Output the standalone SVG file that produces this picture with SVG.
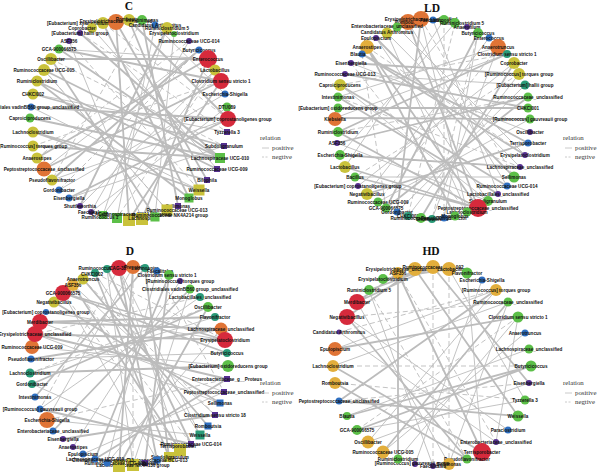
<svg xmlns="http://www.w3.org/2000/svg" width="600" height="472" viewBox="0 0 600 472">
<style>
.e{stroke:#bcbcbc;fill:none;stroke-width:0.9;stroke-linecap:butt}
.t{stroke-width:1.8}
.d{stroke-dasharray:5 3}
text{font-family:"Liberation Sans",Arial,sans-serif}
.n text{font-size:4.6px;font-weight:bold;text-anchor:middle;fill:#111}
.ti{font-family:"Liberation Serif","Times New Roman",serif;font-size:11.5px;font-weight:bold;text-anchor:middle;fill:#111}
.lg text{font-family:"Liberation Serif","Times New Roman",serif;font-size:6.8px;fill:#333}
.lg line{stroke:#c4c4c4;stroke-width:0.9}
.R{fill:#d62a3c}.O{fill:#e07436}.Y{fill:#c9c23b}.G{fill:#5cbf48}.B{fill:#2f6fc0}.P{fill:#55308f}.T{fill:#2a9a78}.A{fill:#e2ae3c}
</style>
<rect width="600" height="472" fill="#fff"/>
<text class="ti" x="129" y="10">C</text>
<text class="ti" x="432" y="12">LD</text>
<text class="ti" x="130" y="255">D</text>
<text class="ti" x="431" y="255">HD</text>
<g id="connectors">
<path class="e t" d="M51,59L208,59M59,49L221,81M80,33L220,158M116,22L207,180M129,20L199,190M142,20L178,206M103,23L189,198M44,70L220,158M37,81L217,169M33,94L224,146M30,118L220,158M33,132L199,190M33,146L220,158M37,158L208,59M44,169L221,81M52,180L199,50M69,198L228,119M129,220L116,22M155,217L51,59M189,198L37,81M207,180L33,132M220,158L59,49M221,81L129,220M208,59L142,219M167,28L80,206M31,107L228,119M129,20L228,119"/>
<path class="e" d="M155,25L117,218M59,190L225,94M80,206L215,70M91,212L189,41M103,215L167,28M142,219L69,41M167,210L44,70M199,190L31,107M228,119L52,180M227,107L91,212M215,70L103,215M199,50L44,169M174,34L155,217M227,132L33,94M224,146L69,198M217,169L92,28M155,25L225,94M59,49L208,59"/>
<path class="e d" d="M116,22L129,220M142,20L52,180M69,41L199,190M33,146L221,81M44,70L167,210M199,50L59,190M37,158L189,41M80,33L227,132M228,119L103,23M215,70L117,218M51,59L224,146"/>
<path class="e t" d="M338,108L528,108M335,118L530,119M362,54L528,143M351,63L519,74M340,85L507,186M367,47L478,208M408,22L478,208M421,19L397,212M478,33L386,208M507,54L338,132M528,97L337,143M525,155L362,54M514,177L376,38M498,194L338,97M478,208L355,177M455,216L367,47M421,218L514,63M386,208L528,97M367,194L528,143M345,167L478,208M338,132L478,208M340,155L520,167M345,74L528,108"/>
<path class="e" d="M338,97L498,47M387,33L467,212M376,38L488,201M444,20L345,167M455,23L340,155M489,38L367,194M514,63L358,186M525,85L345,74M530,132L351,63M520,167L387,33M507,186L408,22M488,201L340,85M467,212L421,19M444,218L478,33M432,219L498,47M408,216L519,74M397,212L525,85M378,202L530,119M355,177L514,177M337,143L488,201M397,27L525,155M433,20L498,194M335,118L507,54"/>
<path class="e d" d="M444,20L444,218M455,23L408,216M421,19L514,177M367,47L525,155M340,85L507,54M338,97L520,167M362,54L386,208M498,47L378,202M519,74L355,177M351,63L467,212M478,33L432,219M528,97L338,132"/>
<path class="e t" d="M40,322L221,329M35,334L225,340M63,293L225,340M63,293L227,353M54,302L220,403M73,285L180,450M95,273L169,457M119,268L157,460M133,267L119,466M145,268L35,397M169,275L95,459M190,289L53,431M208,307L32,384M221,329L31,359M227,353L63,293M227,379L35,334M220,403L54,302M208,426L83,279M191,444L107,269M169,457L145,268M145,463L169,275M119,466L208,307M95,459L227,379M63,439L215,415M40,409L191,444M30,373L228,366M40,322L215,317"/>
<path class="e" d="M83,279L208,426M107,269L133,465M119,268L200,435M133,267L47,420M157,271L107,463M180,281L73,447M200,297L40,409M215,317L30,373M225,340L46,312M228,366L32,347M224,392L40,322M215,415L73,285M200,435L95,273M180,450L119,268M157,460L63,293M133,465L190,289M107,463L221,329M83,454L224,392M47,420L200,435M32,384L180,450M31,359L227,353M35,334L220,403"/>
<path class="e d" d="M133,267L133,465M145,268L169,457M157,271L224,392M119,268L40,409M73,285L191,444M95,273L225,340M200,297L35,334M47,420L227,379M63,293L180,450M83,279L215,415M30,373L208,307"/>
<path class="e t" d="M357,302L398,273M347,317L415,269M369,290L433,267M383,279L449,269M357,302L433,267M398,273L398,459M415,269L518,416M433,267L529,383M398,273L482,452M347,317L467,459M335,349L518,317M339,401L496,290M357,430L531,366M383,452L508,302M467,459L335,383M482,452L333,366M518,416L339,401M531,366L347,416"/>
<path class="e" d="M449,269L525,400M333,366L508,302M347,416L529,349M368,442L496,290M398,459L518,317M415,464L482,280M496,442L339,332M508,430L347,317M525,400L357,430M529,383L368,442M496,290L335,349M449,464L357,302M433,466L369,290M467,273L482,452M518,317L496,442M525,333L383,452M508,302L449,464"/>
<path class="e d" d="M339,332L496,290M347,317L508,302M333,366L531,366M335,383L525,400M433,267L433,466M449,269L449,464M398,273L496,442M357,430L518,317M339,401L529,383M369,290L467,459"/>
</g>
<g class="n" id="nodes-C">
<g id="C4"><circle class="Y" cx="103" cy="23" r="6"/><text x="85" y="25">[Eubacterium] xylanophilum group</text></g>
<g id="C5"><circle class="Y" cx="92" cy="28" r="5"/><text x="82" y="30">Coprobacter</text></g>
<g id="C1"><circle class="O" cx="116" cy="22" r="8"/><text x="116" y="23">Erysipelotrichaceae_unclassified</text></g>
<g id="C2"><circle class="Y" cx="129" cy="20" r="6"/><text x="129" y="21">Romboutsia</text></g>
<g id="C3"><circle class="G" cx="142" cy="20" r="5"/><text x="142" y="22">Intestinimonas</text></g>
<g id="C6"><circle class="B" cx="155" cy="25" r="3.5"/><text x="155" y="27">Candidatus Arthromitus</text></g>
<g id="C7"><circle class="Y" cx="167" cy="28" r="6"/><text x="167" y="30">Ruminiclostridium 5</text></g>
<g id="C8"><circle class="G" cx="174" cy="34" r="3"/><text x="174" y="35">Erysipelatoclostridium</text></g>
<g id="C9"><circle class="P" cx="80" cy="33" r="3"/><text x="80" y="35">[Eubacterium] hallii group</text></g>
<g id="C10"><circle class="P" cx="69" cy="41" r="3"/><text x="69" y="43">ASF356</text></g>
<g id="C11"><circle class="P" cx="189" cy="41" r="3"/><text x="189" y="43">Ruminococcaceae UCG-014</text></g>
<g id="C12"><circle class="G" cx="59" cy="49" r="4.5"/><text x="59" y="51">GCA-900066575</text></g>
<g id="C13"><circle class="B" cx="199" cy="50" r="3.5"/><text x="199" y="52">Butyricicoccus</text></g>
<g id="C14"><circle class="Y" cx="51" cy="59" r="6"/><text x="51" y="61">Oscillibacter</text></g>
<g id="C15"><circle class="R" cx="208" cy="59" r="9"/><text x="208" y="61">Enterococcus</text></g>
<g id="C16"><circle class="Y" cx="44" cy="70" r="6"/><text x="44" y="72">Ruminococcaceae UCG-005</text></g>
<g id="C17"><circle class="Y" cx="215" cy="70" r="5.5"/><text x="215" y="72">Lactobacillus</text></g>
<g id="C18"><circle class="Y" cx="37" cy="81" r="5.5"/><text x="37" y="83">Ruminiclostridium</text></g>
<g id="C19"><circle class="R" cx="221" cy="81" r="8"/><text x="221" y="83">Clostridium sensu stricto 1</text></g>
<g id="C20"><circle class="Y" cx="33" cy="94" r="5.5"/><text x="33" y="96">CHKCI002</text></g>
<g id="C21"><circle class="B" cx="225" cy="94" r="3.5"/><text x="225" y="96">Escherichia-Shigella</text></g>
<g id="C22"><circle class="B" cx="31" cy="107" r="3.5"/><text x="31" y="109">Clostridiales vadinBB60 group_unclassified</text></g>
<g id="C23"><circle class="G" cx="227" cy="107" r="4.5"/><text x="227" y="109">DTU089</text></g>
<g id="C24"><circle class="G" cx="30" cy="118" r="4.5"/><text x="30" y="120">Caproiciproducens</text></g>
<g id="C25"><circle class="R" cx="228" cy="119" r="8"/><text x="228" y="121">[Eubacterium] coprostanoligenes group</text></g>
<g id="C26"><circle class="Y" cx="33" cy="132" r="5.5"/><text x="33" y="134">Lachnoclostridium</text></g>
<g id="C27"><rect class="P" x="224" y="129" width="6" height="6"/><text x="227" y="134">Tyzzerella 3</text></g>
<g id="C28"><circle class="Y" cx="33" cy="146" r="5.5"/><text x="33" y="148">[Ruminococcus] torques group</text></g>
<g id="C29"><rect class="P" x="221" y="143" width="6" height="6"/><text x="224" y="148">Subdoligranulum</text></g>
<g id="C30"><circle class="Y" cx="37" cy="158" r="5.5"/><text x="37" y="160">Anaerostipes</text></g>
<g id="C31"><rect class="G" x="215" y="153" width="10" height="10"/><text x="220" y="160">Lachnospiraceae UCG-010</text></g>
<g id="C32"><circle class="O" cx="44" cy="169" r="7.5"/><text x="44" y="171">Peptostreptococcaceae_unclassified</text></g>
<g id="C33"><rect class="P" x="214" y="166" width="6" height="6"/><text x="217" y="171">Ruminococcaceae UCG-009</text></g>
<g id="C34"><circle class="Y" cx="52" cy="180" r="5.5"/><text x="52" y="182">Pseudoflavonifractor</text></g>
<g id="C35"><rect class="P" x="204" y="177" width="6" height="6"/><text x="207" y="182">Bilophila</text></g>
<g id="C36"><circle class="B" cx="59" cy="190" r="3.5"/><text x="59" y="192">Gordonibacter</text></g>
<g id="C37"><rect class="Y" x="193.5" y="184.5" width="11" height="11"/><text x="199" y="192">Weissella</text></g>
<g id="C38"><circle class="B" cx="69" cy="198" r="3.5"/><text x="69" y="200">Eisenbergiella</text></g>
<g id="C39"><rect class="G" x="184.5" y="193.5" width="9" height="9"/><text x="189" y="200">Monoglobus</text></g>
<g id="C40"><circle class="P" cx="80" cy="206" r="3"/><text x="80" y="208">Shuttleworthia</text></g>
<g id="C41"><rect class="P" x="175" y="203" width="6" height="6"/><text x="178" y="208">Sellimonas</text></g>
<g id="C42"><circle class="P" cx="91" cy="212" r="3"/><text x="91" y="214">Faecalitalea</text></g>
<g id="C43"><rect class="Y" x="161.5" y="204.5" width="11" height="11"/><text x="177" y="212">Ruminococcaceae UCG-013</text></g>
<g id="C44"><rect class="G" x="99" y="211" width="8" height="8"/><text x="100" y="216">CAG-56</text></g>
<g id="C45"><rect class="G" x="112" y="213" width="10" height="10"/><text x="100" y="219">Ruminococcus 1</text></g>
<g id="C46"><rect class="Y" x="123" y="214" width="12" height="12"/><text x="135" y="216">Lachnospiraceae NK4A136 group</text></g>
<g id="C47"><rect class="Y" x="136" y="213" width="12" height="12"/><text x="142" y="220">Lachnospira</text></g>
<g id="C48"><rect class="G" x="150.5" y="212.5" width="9" height="9"/><text x="170" y="217">Ruminococcaceae NK4A214 group</text></g>
</g>
<g class="n" id="nodes-LD">
<g id="LD1"><circle class="O" cx="408" cy="22" r="8"/><text x="408" y="24">Romboutsia</text></g>
<g id="LD2"><circle class="O" cx="421" cy="19" r="8"/><text x="421" y="21">Erysipelotrichaceae_unclassified</text></g>
<g id="LD3"><circle class="B" cx="433" cy="20" r="3.5"/><text x="433" y="22">Faecalitalea</text></g>
<g id="LD4"><circle class="G" cx="444" cy="20" r="5"/><text x="444" y="22">Lachnospira</text></g>
<g id="LD5"><circle class="G" cx="455" cy="23" r="5"/><text x="462" y="25">Ruminiclostridium 5</text></g>
<g id="LD6"><circle class="P" cx="467" cy="27" r="3"/><text x="467" y="29">Anaerofilum</text></g>
<g id="LD7"><circle class="G" cx="397" cy="27" r="4.5"/><text x="387" y="28">Enterobacteriaceae_unclassified</text></g>
<g id="LD8"><circle class="Y" cx="387" cy="33" r="5.5"/><text x="387" y="34">Candidatus Arthromitus</text></g>
<g id="LD9"><circle class="G" cx="478" cy="33" r="5"/><text x="478" y="35">Butyricicoccus</text></g>
<g id="LD10"><circle class="P" cx="376" cy="38" r="3"/><text x="376" y="40">Epulopiscium</text></g>
<g id="LD11"><circle class="B" cx="489" cy="38" r="3.5"/><text x="489" y="40">Enterococcus</text></g>
<g id="LD12"><circle class="A" cx="367" cy="47" r="7"/><text x="367" y="49">Anaerostipes</text></g>
<g id="LD13"><circle class="O" cx="498" cy="47" r="8"/><text x="498" y="49">Anaerotruncus</text></g>
<g id="LD14"><circle class="B" cx="362" cy="54" r="3.5"/><text x="358" y="56">Blautia</text></g>
<g id="LD15"><circle class="T" cx="507" cy="54" r="4"/><text x="507" y="56">Clostridium sensu stricto 1</text></g>
<g id="LD16"><circle class="P" cx="351" cy="63" r="3"/><text x="351" y="65">Eisenbergiella</text></g>
<g id="LD17"><circle class="Y" cx="514" cy="63" r="6"/><text x="514" y="65">Coprobacter</text></g>
<g id="LD18"><circle class="P" cx="345" cy="74" r="3"/><text x="345" y="76">Ruminococcaceae UCG-013</text></g>
<g id="LD19"><circle class="Y" cx="519" cy="74" r="6"/><text x="519" y="76">[Ruminococcus] torques group</text></g>
<g id="LD20"><circle class="Y" cx="340" cy="85" r="6"/><text x="340" y="87">Caproiciproducens</text></g>
<g id="LD21"><circle class="T" cx="525" cy="85" r="4.5"/><text x="525" y="87">[Eubacterium] hallii group</text></g>
<g id="LD22"><circle class="G" cx="338" cy="97" r="4.5"/><text x="338" y="99">Intestinimonas</text></g>
<g id="LD23"><circle class="G" cx="528" cy="97" r="4.5"/><text x="528" y="99">Ruminococcaceae_unclassified</text></g>
<g id="LD24"><circle class="G" cx="338" cy="108" r="4.5"/><text x="338" y="110">[Eubacterium] oxidoreducens group</text></g>
<g id="LD25"><circle class="G" cx="528" cy="108" r="4.5"/><text x="528" y="110">CHKCI001</text></g>
<g id="LD26"><circle class="O" cx="335" cy="119" r="7"/><text x="335" y="121">Klebsiella</text></g>
<g id="LD27"><circle class="G" cx="530" cy="119" r="4.5"/><text x="530" y="121">[Ruminococcus] gauvreauii group</text></g>
<g id="LD28"><circle class="G" cx="338" cy="132" r="5"/><text x="338" y="134">Ruminiclostridium</text></g>
<g id="LD29"><circle class="P" cx="530" cy="132" r="3"/><text x="530" y="134">Oscillibacter</text></g>
<g id="LD30"><circle class="P" cx="337" cy="143" r="3"/><text x="337" y="145">ASF356</text></g>
<g id="LD31"><circle class="B" cx="528" cy="143" r="3.5"/><text x="528" y="145">Terrisporobacter</text></g>
<g id="LD32"><circle class="G" cx="340" cy="155" r="5"/><text x="340" y="157">Escherichia-Shigella</text></g>
<g id="LD33"><circle class="P" cx="525" cy="155" r="3"/><text x="525" y="157">Erysipelatoclostridium</text></g>
<g id="LD34"><circle class="Y" cx="345" cy="167" r="6"/><text x="345" y="169">Lactobacillus</text></g>
<g id="LD35"><circle class="P" cx="520" cy="167" r="3"/><text x="520" y="169">Lachnospiraceae_unclassified</text></g>
<g id="LD36"><circle class="G" cx="355" cy="177" r="4.5"/><text x="355" y="179">Bacillus</text></g>
<g id="LD37"><circle class="G" cx="514" cy="177" r="5.5"/><text x="514" y="179">Sellimonas</text></g>
<g id="LD38"><circle class="P" cx="358" cy="186" r="3"/><text x="358" y="188">[Eubacterium] coprostanoligenes group</text></g>
<g id="LD39"><circle class="B" cx="507" cy="186" r="3.5"/><text x="507" y="188">Ruminococcaceae UCG-014</text></g>
<g id="LD40"><circle class="Y" cx="367" cy="194" r="6"/><text x="367" y="196">Negativibacillus</text></g>
<g id="LD41"><circle class="P" cx="498" cy="194" r="3"/><text x="498" y="196">Lactobacillales_unclassified</text></g>
<g id="LD42"><circle class="G" cx="378" cy="202" r="4.5"/><text x="378" y="204">Ruminococcaceae UCG-009</text></g>
<g id="LD43"><circle class="G" cx="488" cy="201" r="5"/><text x="488" y="203">Subdoligranulum</text></g>
<g id="LD44"><circle class="G" cx="386" cy="208" r="4.5"/><text x="386" y="210">GCA-900066575</text></g>
<g id="LD45"><circle class="R" cx="478" cy="208" r="9"/><text x="478" y="210">Peptostreptococcaceae_unclassified</text></g>
<g id="LD46"><circle class="B" cx="397" cy="212" r="3.5"/><text x="397" y="214">Gordonibacter</text></g>
<g id="LD47"><circle class="G" cx="467" cy="212" r="4.5"/><text x="467" y="214">Lachnoclostridium</text></g>
<g id="LD48"><circle class="T" cx="408" cy="216" r="4"/><text x="408" y="218">CHKCI002</text></g>
<g id="LD49"><circle class="G" cx="421" cy="218" r="5"/><text x="421" y="220">Ruminococcaceae UCG-005</text></g>
<g id="LD50"><circle class="T" cx="432" cy="219" r="4"/><text x="432" y="221">Shuttleworthia</text></g>
<g id="LD51"><circle class="B" cx="444" cy="218" r="3.5"/><text x="444" y="220">Pseudoflavonifractor</text></g>
<g id="LD52"><circle class="G" cx="455" cy="216" r="4.5"/><text x="455" y="218">Monoglobus</text></g>
</g>
<g class="n" id="nodes-D">
<g id="D1"><circle class="T" cx="107" cy="269" r="4"/><text x="97" y="270">Ruminococcus 1</text></g>
<g id="D2"><circle class="R" cx="119" cy="268" r="8"/><text x="119" y="270">CAG-352</text></g>
<g id="D3"><circle class="O" cx="133" cy="267" r="7"/><text x="135" y="269">Prevotella</text></g>
<g id="D4"><circle class="T" cx="145" cy="268" r="4"/><text x="145" y="270">Lachnospira</text></g>
<g id="D5"><circle class="B" cx="157" cy="271" r="3.5"/><text x="160" y="273">Faecalitalea</text></g>
<g id="D6"><circle class="G" cx="169" cy="275" r="5"/><text x="167" y="277">Clostridium sensu stricto 1</text></g>
<g id="D7"><circle class="P" cx="180" cy="281" r="3"/><text x="180" y="283">[Ruminococcus] torques group</text></g>
<g id="D8"><circle class="G" cx="190" cy="289" r="4.5"/><text x="190" y="291">Clostridiales vadinBB60 group_unclassified</text></g>
<g id="D9"><circle class="T" cx="200" cy="297" r="4"/><text x="200" y="299">Lactobacillales_unclassified</text></g>
<g id="D10"><circle class="G" cx="208" cy="307" r="5"/><text x="208" y="309">Oscillibacter</text></g>
<g id="D11"><circle class="T" cx="215" cy="317" r="4"/><text x="215" y="319">Flavonifractor</text></g>
<g id="D12"><circle class="O" cx="221" cy="329" r="6.5"/><text x="221" y="331">Lachnospiraceae_unclassified</text></g>
<g id="D13"><circle class="R" cx="225" cy="340" r="8"/><text x="225" y="342">Erysipelatoclostridium</text></g>
<g id="D14"><circle class="T" cx="227" cy="353" r="4"/><text x="227" y="355">Butyricicoccus</text></g>
<g id="D15"><circle class="G" cx="228" cy="366" r="6"/><text x="228" y="368">[Eubacterium] oxidoreducens group</text></g>
<g id="D16"><rect class="P" x="224" y="376" width="6" height="6"/><text x="227" y="381">Enterobacteriaceae_g__Proteus</text></g>
<g id="D17"><rect class="P" x="221" y="389" width="6" height="6"/><text x="224" y="394">Peptostreptococcaceae_unclassified</text></g>
<g id="D18"><rect class="B" x="216.5" y="399.5" width="7" height="7"/><text x="220" y="405">Sellimonas</text></g>
<g id="D19"><rect class="P" x="212" y="412" width="6" height="6"/><text x="215" y="417">Clostridium sensu stricto 18</text></g>
<g id="D20"><rect class="B" x="204.5" y="422.5" width="7" height="7"/><text x="208" y="428">Romboutsia</text></g>
<g id="D21"><rect class="T" x="195.5" y="430.5" width="9" height="9"/><text x="200" y="437">Weissella</text></g>
<g id="D22"><rect class="P" x="188" y="441" width="6" height="6"/><text x="191" y="446">Ruminococcaceae UCG-014</text></g>
<g id="D23"><rect class="Y" x="174" y="444" width="12" height="12"/><text x="178" y="448">Terrisporobacter</text></g>
<g id="D24"><rect class="Y" x="164" y="452" width="10" height="10"/><text x="170" y="459">Subdoligranulum</text></g>
<g id="D25"><rect class="B" x="153.5" y="456.5" width="7" height="7"/><text x="157" y="462">Ruminococcaceae UCG-013</text></g>
<g id="D26"><rect class="P" x="142" y="460" width="6" height="6"/><text x="145" y="465">Monoglobus</text></g>
<g id="D27"><rect class="Y" x="127" y="459" width="12" height="12"/><text x="133" y="467">Lachnospiraceae NK4A136 group</text></g>
<g id="D28"><rect class="Y" x="113" y="460" width="12" height="12"/><text x="115" y="465">Ruminococcaceae UCG-005</text></g>
<g id="D29"><circle class="B" cx="107" cy="463" r="3.5"/><text x="103" y="462">Clostridium sensu stricto 13</text></g>
<g id="D30"><circle class="B" cx="95" cy="459" r="3.5"/><text x="95" y="461">Lachnospiraceae UCG-010</text></g>
<g id="D31"><circle class="B" cx="83" cy="454" r="3.5"/><text x="83" y="456">Epulopiscium</text></g>
<g id="D32"><circle class="P" cx="73" cy="447" r="3"/><text x="73" y="449">Anaerostipes</text></g>
<g id="D33"><circle class="P" cx="63" cy="439" r="3"/><text x="63" y="441">Eisenbergiella</text></g>
<g id="D34"><circle class="B" cx="53" cy="431" r="3.5"/><text x="53" y="433">Enterobacteriaceae_unclassified</text></g>
<g id="D35"><circle class="O" cx="47" cy="420" r="8"/><text x="47" y="422">Escherichia-Shigella</text></g>
<g id="D36"><circle class="B" cx="40" cy="409" r="3.5"/><text x="40" y="411">[Ruminococcus] gauvreauii group</text></g>
<g id="D37"><circle class="B" cx="35" cy="397" r="3.5"/><text x="35" y="399">Intestinimonas</text></g>
<g id="D38"><circle class="T" cx="32" cy="384" r="4"/><text x="32" y="386">Gordonibacter</text></g>
<g id="D39"><circle class="T" cx="30" cy="373" r="4.5"/><text x="30" y="375">Lachnoclostridium</text></g>
<g id="D40"><circle class="B" cx="31" cy="359" r="3.5"/><text x="31" y="361">Pseudoflavonifractor</text></g>
<g id="D41"><circle class="O" cx="32" cy="347" r="7"/><text x="32" y="349">Ruminococcaceae UCG-009</text></g>
<g id="D42"><circle class="R" cx="35" cy="334" r="8"/><text x="35" y="336">Erysipelotrichaceae_unclassified</text></g>
<g id="D43"><circle class="R" cx="40" cy="322" r="8"/><text x="40" y="324">Merdibacter</text></g>
<g id="D44"><circle class="B" cx="46" cy="312" r="3"/><text x="46" y="314">[Eubacterium] coprostanoligenes group</text></g>
<g id="D45"><circle class="Y" cx="54" cy="302" r="5.5"/><text x="54" y="304">Negativibacillus</text></g>
<g id="D46"><circle class="R" cx="63" cy="293" r="8"/><text x="63" y="295">GCA-900066575</text></g>
<g id="D47"><circle class="A" cx="73" cy="285" r="6"/><text x="73" y="287">ASF356</text></g>
<g id="D48"><circle class="Y" cx="83" cy="279" r="5.5"/><text x="83" y="281">Anaerotruncus</text></g>
<g id="D49"><circle class="T" cx="95" cy="273" r="4"/><text x="92" y="276">CHKCI002</text></g>
</g>
<g class="n" id="nodes-HD">
<g id="HD1"><circle class="A" cx="398" cy="273" r="6"/><text x="398" y="275">ASF356</text></g>
<g id="HD2"><circle class="A" cx="415" cy="269" r="7"/><text x="402" y="271">Erysipelotrichaceae_unclassified</text></g>
<g id="HD3"><circle class="A" cx="433" cy="267" r="7"/><text x="433" y="269">Ruminococcaceae UCG-002</text></g>
<g id="HD4"><circle class="A" cx="449" cy="269" r="7"/><text x="452" y="271">Lactobacillus</text></g>
<g id="HD5"><circle class="G" cx="467" cy="273" r="5.5"/><text x="467" y="275">Flavonifractor</text></g>
<g id="HD6"><circle class="B" cx="482" cy="280" r="3.5"/><text x="482" y="282">Escherichia-Shigella</text></g>
<g id="HD7"><circle class="A" cx="496" cy="290" r="6"/><text x="496" y="292">[Ruminococcus] torques group</text></g>
<g id="HD8"><circle class="G" cx="508" cy="302" r="4.5"/><text x="508" y="304">Ruminococcaceae_unclassified</text></g>
<g id="HD9"><circle class="G" cx="518" cy="317" r="5.5"/><text x="518" y="319">Clostridium sensu stricto 1</text></g>
<g id="HD10"><circle class="B" cx="525" cy="333" r="3.5"/><text x="525" y="335">Anaerotruncus</text></g>
<g id="HD11"><circle class="G" cx="529" cy="349" r="4.5"/><text x="529" y="351">Lachnospiraceae_unclassified</text></g>
<g id="HD12"><circle class="G" cx="531" cy="366" r="5.5"/><text x="531" y="368">Butyricicoccus</text></g>
<g id="HD13"><circle class="P" cx="529" cy="383" r="3"/><text x="529" y="385">Eisenbergiella</text></g>
<g id="HD14"><circle class="G" cx="525" cy="400" r="4.5"/><text x="525" y="402">Tyzzerella 3</text></g>
<g id="HD15"><circle class="G" cx="518" cy="416" r="5.5"/><text x="518" y="418">Weissella</text></g>
<g id="HD16"><circle class="B" cx="508" cy="430" r="3.5"/><text x="508" y="432">Paraclostridium</text></g>
<g id="HD17"><circle class="P" cx="496" cy="442" r="3"/><text x="496" y="444">Enterobacteriaceae_unclassified</text></g>
<g id="HD18"><circle class="R" cx="482" cy="452" r="9"/><text x="482" y="454">Terrisporobacter</text></g>
<g id="HD19"><circle class="G" cx="467" cy="459" r="4.5"/><text x="467" y="461">Pseudoflavonifractor</text></g>
<g id="HD20"><circle class="A" cx="449" cy="464" r="6"/><text x="449" y="466">Sellimonas</text></g>
<g id="HD21"><circle class="P" cx="433" cy="466" r="3"/><text x="433" y="468">Faecalitalea</text></g>
<g id="HD22"><circle class="P" cx="415" cy="464" r="3"/><text x="412" y="465">[Ruminococcus] gauvreauii group</text></g>
<g id="HD23"><circle class="G" cx="398" cy="459" r="4.5"/><text x="398" y="461">Ruminiclostridium</text></g>
<g id="HD24"><circle class="A" cx="383" cy="452" r="6.5"/><text x="383" y="454">Ruminococcaceae UCG-005</text></g>
<g id="HD25"><circle class="A" cx="368" cy="442" r="6.5"/><text x="368" y="444">Oscillibacter</text></g>
<g id="HD26"><circle class="G" cx="357" cy="430" r="5"/><text x="357" y="432">GCA-900066575</text></g>
<g id="HD27"><circle class="G" cx="347" cy="416" r="4"/><text x="347" y="418">Blautia</text></g>
<g id="HD28"><circle class="B" cx="339" cy="401" r="3.5"/><text x="339" y="403">Peptostreptococcaceae_unclassified</text></g>
<g id="HD29"><circle class="A" cx="335" cy="383" r="6"/><text x="335" y="385">Romboutsia</text></g>
<g id="HD30"><circle class="A" cx="333" cy="366" r="6"/><text x="333" y="368">Lachnoclostridium</text></g>
<g id="HD31"><circle class="O" cx="335" cy="349" r="7"/><text x="335" y="351">Epulopiscium</text></g>
<g id="HD32"><circle class="P" cx="339" cy="332" r="2.5"/><text x="339" y="334">Candidatus Arthromitus</text></g>
<g id="HD33"><circle class="R" cx="347" cy="317" r="8"/><text x="347" y="319">Negativibacillus</text></g>
<g id="HD34"><circle class="R" cx="357" cy="302" r="8"/><text x="357" y="304">Merdibacter</text></g>
<g id="HD35"><circle class="G" cx="369" cy="290" r="5"/><text x="369" y="292">Ruminiclostridium 5</text></g>
<g id="HD36"><circle class="G" cx="383" cy="279" r="5"/><text x="383" y="281">Erysipelatoclostridium</text></g>
</g>
<g class="lg" id="legend-C"><text x="260" y="140">relation</text><line x1="262" y1="148" x2="269" y2="148"/><text x="272" y="150">positive</text><line x1="262" y1="157" x2="269" y2="157" style="stroke-dasharray:2 1.5"/><text x="272" y="159">negtive</text></g>
<g class="lg" id="legend-LD"><text x="563" y="140">relation</text><line x1="565" y1="148" x2="572" y2="148"/><text x="575" y="150">positive</text><line x1="565" y1="157" x2="572" y2="157" style="stroke-dasharray:2 1.5"/><text x="575" y="159">negtive</text></g>
<g class="lg" id="legend-D"><text x="260" y="385">relation</text><line x1="262" y1="393" x2="269" y2="393"/><text x="272" y="395">positive</text><line x1="262" y1="402" x2="269" y2="402" style="stroke-dasharray:2 1.5"/><text x="272" y="404">negtive</text></g>
<g class="lg" id="legend-HD"><text x="563" y="385">relation</text><line x1="565" y1="393" x2="572" y2="393"/><text x="575" y="395">positive</text><line x1="565" y1="402" x2="572" y2="402" style="stroke-dasharray:2 1.5"/><text x="575" y="404">negtive</text></g>
</svg>
